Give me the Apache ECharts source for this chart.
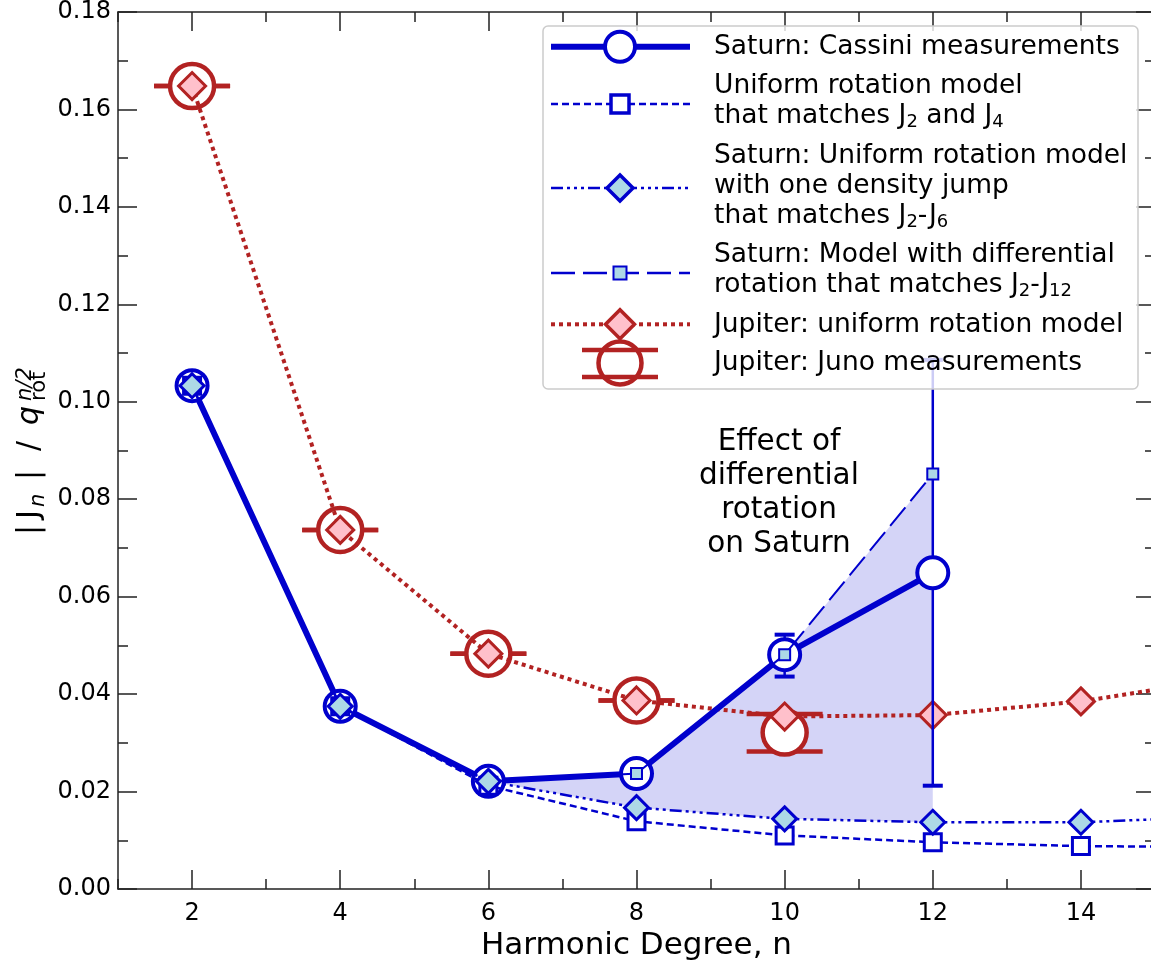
<!DOCTYPE html>
<html>
<head>
<meta charset="utf-8">
<script src="https://cdn.jsdelivr.net/npm/echarts@6/dist/echarts.min.js"></script>
<style>
html,body{margin:0;padding:0;background:#fff;}
#chart{width:1151px;height:964px;}
</style>
</head>
<body>
<div id="chart"></div>
<script>
// ---------------- data ----------------
const nSaturn = [2, 4, 6, 8, 10, 12];
const cassini = [0.1033, 0.0375, 0.0221, 0.0237, 0.0481, 0.0649];
const cassiniLow = [0.1033, 0.0375, 0.0221, 0.0237, 0.0436, 0.0212];
const cassiniHigh = [0.1033, 0.0375, 0.0221, 0.0237, 0.0522, 0.1086];
const diffRot = [0.1033, 0.0375, 0.0221, 0.0237, 0.0481, 0.0852];

const nModel = [2, 4, 6, 8, 10, 12, 14, 16];
const uniformJ2J4 = [0.1033, 0.0375, 0.0212, 0.0139, 0.0110, 0.0096, 0.0088, 0.0086];
const densityJump = [0.1033, 0.0375, 0.0221, 0.0167, 0.0144, 0.0137, 0.0137, 0.0149];
const jupiterModel = [0.1648, 0.0737, 0.0483, 0.0387, 0.0354, 0.0357, 0.0385, 0.0433];

const nJuno = [2, 4, 6, 8, 10];
const juno = [0.1648, 0.0737, 0.0483, 0.0387, 0.0321];
const junoLow = [0.1648, 0.0737, 0.0483, 0.0387, 0.0282];
const junoHigh = [0.1648, 0.0737, 0.0483, 0.0387, 0.0359];

const fillN = [6, 8, 10, 12];

const xTicks = [2, 4, 6, 8, 10, 12, 14];
const xMinorTicks = [1, 3, 5, 7, 9, 11, 13, 15];

const legendLabels = [
  'Saturn: Cassini measurements',
  'Uniform rotation model\nthat matches J{s|2} and J{s|4}',
  'Saturn: Uniform rotation model\nwith one density jump\nthat matches J{s|2}-J{s|6}',
  'Saturn: Model with differential\nrotation that matches J{s|2}-J{s|12}',
  'Jupiter: uniform rotation model',
  'Jupiter: Juno measurements'
];
const annotationText = 'Effect of\ndifferential\nrotation\non Saturn';

// ---------------- styles ----------------
const FONT = 'DejaVu Sans';
const BLUE = '#0000cd';
const RED = '#b22222';
const LIGHTBLUE = '#add8e6';
const PINK = '#ffc0cb';
const AXIS = '#222';

const pair = (xs, ys) => xs.map((x, i) => [x, ys[i]]);
const fillLower = fillN.map(n => densityJump[nModel.indexOf(n)]);
const fillUpper = fillN.map(n => diffRot[nSaturn.indexOf(n)]);

function errorSeries(ns, lo, hi, halfCap, color, vWidth, capWidth, z, always) {
  return {
    type: 'custom', xAxisIndex: 0, yAxisIndex: 0, z: z, silent: true,
    encode: { x: 0, y: [1, 2] },
    data: ns.map((n, i) => [n, lo[i], hi[i]]),
    renderItem: function (params, api) {
      const x = api.value(0), l = api.value(1), h = api.value(2);
      if (!always && Math.abs(h - l) < 1e-4) return null;
      const pl = api.coord([x, l]);
      const ph = api.coord([x, h]);
      const children = [
        { type: 'line', shape: { x1: pl[0], y1: pl[1], x2: ph[0], y2: ph[1] }, style: { stroke: color, lineWidth: vWidth } },
        { type: 'line', shape: { x1: pl[0] - halfCap, y1: pl[1], x2: pl[0] + halfCap, y2: pl[1] }, style: { stroke: color, lineWidth: capWidth } },
        { type: 'line', shape: { x1: ph[0] - halfCap, y1: ph[1], x2: ph[0] + halfCap, y2: ph[1] }, style: { stroke: color, lineWidth: capWidth } }
      ];
      return { type: 'group', children: children };
    }
  };
}

function lineSeries(name, xs, ys, opts) {
  return Object.assign({
    name: name, type: 'line', xAxisIndex: 0, yAxisIndex: 0,
    data: pair(xs, ys), showAllSymbol: true, silent: true,
    emphasis: { disabled: true }
  }, opts);
}

const series = [
  // shaded region (effect of differential rotation)
  {
    type: 'custom', xAxisIndex: 0, yAxisIndex: 0, z: 1, silent: true,
    encode: { x: 0, y: [1, 2] },
    data: fillN.map((n, i) => [n, fillLower[i], fillUpper[i]]),
    renderItem: function (params, api) {
      if (params.dataIndex !== 0) return null;
      const pts = [];
      for (let i = 0; i < fillN.length; i++) pts.push(api.coord([fillN[i], fillUpper[i]]));
      for (let i = fillN.length - 1; i >= 0; i--) pts.push(api.coord([fillN[i], fillLower[i]]));
      return { type: 'polygon', shape: { points: pts }, style: { fill: 'rgba(0,0,205,0.17)' } };
    }
  },
  // Juno error caps + markers
  errorSeries(nJuno, junoLow, junoHigh, 38, RED, 3, 4.5, 2, true),
  lineSeries('Jupiter: Juno measurements', nJuno, juno, {
    z: 2, symbol: 'circle', symbolSize: 44,
    lineStyle: { width: 0, opacity: 0 },
    itemStyle: { color: '#fff', borderColor: RED, borderWidth: 4.5 }
  }),
  // Jupiter uniform model
  lineSeries('Jupiter: uniform rotation model', nModel, jupiterModel, {
    z: 3, symbol: 'diamond', symbolSize: 27,
    lineStyle: { color: RED, width: 4, type: [4, 4] },
    itemStyle: { color: PINK, borderColor: RED, borderWidth: 3 }
  }),
  // Cassini
  errorSeries(nSaturn, cassiniLow, cassiniHigh, 10, BLUE, 2.5, 4, 4, false),
  lineSeries('Saturn: Cassini measurements', nSaturn, cassini, {
    z: 4, symbol: 'circle', symbolSize: 31,
    lineStyle: { color: BLUE, width: 6 },
    itemStyle: { color: '#fff', borderColor: BLUE, borderWidth: 4 }
  }),
  // Uniform rotation model matching J2, J4
  lineSeries('Uniform rotation model', nModel, uniformJ2J4, {
    z: 5, symbol: 'rect', symbolSize: 17,
    lineStyle: { color: BLUE, width: 2.5, type: [7, 4] },
    itemStyle: { color: '#fff', borderColor: BLUE, borderWidth: 3 }
  }),
  // Differential rotation model
  lineSeries('Saturn: Model with differential rotation', nSaturn, diffRot, {
    z: 5, symbol: 'rect', symbolSize: 11,
    lineStyle: { color: BLUE, width: 2, type: [24, 8] },
    itemStyle: { color: LIGHTBLUE, borderColor: BLUE, borderWidth: 2 }
  }),
  // density jump model
  lineSeries('Saturn: Uniform rotation model with one density jump', nModel, densityJump, {
    z: 5, symbol: 'diamond', symbolSize: 24,
    lineStyle: { color: BLUE, width: 2.5, type: [12, 4, 3, 4, 3, 4, 3, 4] },
    itemStyle: { color: LIGHTBLUE, borderColor: BLUE, borderWidth: 3 }
  })
];

// ---------------- axes ----------------
const tickStyle = { color: AXIS, width: 1.5 };
function xAx(pos, ticks, len, showLine, labels, extra) {
  return Object.assign({
    type: 'value', min: 1, max: 15, position: pos, gridIndex: 0,
    axisLine: { show: showLine, onZero: false, lineStyle: { color: AXIS, width: 1.5 } },
    axisTick: { show: true, inside: true, length: len, customValues: ticks, lineStyle: tickStyle },
    axisLabel: labels ? { show: true, customValues: ticks, fontSize: 24, color: '#000', fontFamily: FONT, margin: 13 } : { show: false },
    splitLine: { show: false }
  }, extra || {});
}
function yAx(pos, labels) {
  return {
    type: 'value', min: 0, max: 0.18, interval: 0.02, position: pos, gridIndex: 0,
    axisLine: { show: true, onZero: false, lineStyle: { color: AXIS, width: 1.5 } },
    axisTick: { show: true, inside: true, length: 19, lineStyle: tickStyle },
    minorTick: { show: true, splitNumber: 2, length: 10, lineStyle: tickStyle },
    axisLabel: labels ? { show: true, fontSize: 24, color: '#000', fontFamily: FONT, margin: 7, formatter: v => v.toFixed(2) } : { show: false },
    splitLine: { show: false }, minorSplitLine: { show: false }
  };
}

// ---------------- graphic: legend, annotation, y label ----------------
const LX0 = 551, LX1 = 690, LSX = 620, TX = 714;
const legendSymbolY = [46.7, 104, 188, 273, 324.3, 363];
const legendTextY = [47, 101.2, 186.2, 270.5, 325, 363];
const g = [];
g.push({ type: 'rect', z: 100, shape: { x: 543, y: 26, width: 595, height: 363, r: 5 },
  style: { fill: 'rgba(255,255,255,0.8)', stroke: '#cccccc', lineWidth: 1.5 } });
function lLine(y, color, w, dash) {
  g.push({ type: 'line', z: 101, shape: { x1: LX0, y1: y, x2: LX1, y2: y },
    style: { stroke: color, lineWidth: w, lineDash: dash || null } });
}
function diamond(cx, cy, s) {
  return [[cx, cy - s / 2], [cx + s / 2, cy], [cx, cy + s / 2], [cx - s / 2, cy]];
}
// 1 Cassini
lLine(legendSymbolY[0], BLUE, 6);
g.push({ type: 'circle', z: 102, shape: { cx: LSX, cy: legendSymbolY[0], r: 15 }, style: { fill: '#fff', stroke: BLUE, lineWidth: 4 } });
// 2 uniform
lLine(legendSymbolY[1], BLUE, 2.5, [7, 4]);
g.push({ type: 'rect', z: 102, shape: { x: LSX - 9, y: legendSymbolY[1] - 9, width: 18, height: 18 }, style: { fill: '#fff', stroke: BLUE, lineWidth: 3.5 } });
// 3 density jump
lLine(legendSymbolY[2], BLUE, 2.5, [12, 4, 3, 4, 3, 4, 3, 4]);
g.push({ type: 'polygon', z: 102, shape: { points: diamond(LSX, legendSymbolY[2], 26) }, style: { fill: LIGHTBLUE, stroke: BLUE, lineWidth: 3.5 } });
// 4 diff rotation
lLine(legendSymbolY[3], BLUE, 2.5, [24, 8]);
g.push({ type: 'rect', z: 102, shape: { x: LSX - 6.5, y: legendSymbolY[3] - 6.5, width: 13, height: 13 }, style: { fill: LIGHTBLUE, stroke: BLUE, lineWidth: 2 } });
// 5 jupiter model
lLine(legendSymbolY[4], RED, 4, [4, 4]);
g.push({ type: 'polygon', z: 102, shape: { points: diamond(LSX, legendSymbolY[4], 29) }, style: { fill: PINK, stroke: RED, lineWidth: 3.5 } });
// 6 Juno
g.push({ type: 'circle', z: 102, shape: { cx: LSX, cy: legendSymbolY[5], r: 21.5 }, style: { fill: '#fff', stroke: RED, lineWidth: 4.5 } });
g.push({ type: 'line', z: 102, shape: { x1: 582, y1: legendSymbolY[5] - 13, x2: 658, y2: legendSymbolY[5] - 13 }, style: { stroke: RED, lineWidth: 4.5 } });
g.push({ type: 'line', z: 102, shape: { x1: 582, y1: legendSymbolY[5] + 14, x2: 658, y2: legendSymbolY[5] + 14 }, style: { stroke: RED, lineWidth: 4.5 } });
legendLabels.forEach((t, i) => {
  g.push({ type: 'text', z: 103, x: TX, y: legendTextY[i],
    style: { text: t, fontSize: 26.5, fontFamily: FONT, fill: '#000', align: 'left', verticalAlign: 'middle', lineHeight: 30,
      rich: { s: { fontSize: 18, fontFamily: FONT, fill: '#000', lineHeight: 14, verticalAlign: 'bottom' } } } });
});
// annotation
g.push({ type: 'text', z: 50, x: 779, y: 493,
  style: { text: annotationText, font: '29.5px "' + FONT + '"', fill: '#000', align: 'center', verticalAlign: 'middle', lineHeight: 34 } });
// y-axis label (rotated group)
const mainF = '30px "' + FONT + '"';
const smallF = '21px "' + FONT + '"';
const smallIt = 'italic 21px "' + FONT + '"';
const mainIt = 'italic 30px "' + FONT + '"';
function yl(text, x, y, font) {
  return { type: 'text', x: x, y: y, style: { text: text, font: font, fill: '#000', align: 'left', verticalAlign: 'middle' } };
}
g.push({ type: 'group', x: 30, y: 535, rotation: Math.PI / 2, children: [
  yl('|', 0, 0, mainF),
  yl('J', 16, 0, mainF),
  yl('n', 28, 9, smallIt),
  yl('|', 55, 0, mainF),
  yl('/', 84, 0, mainF),
  yl('q', 110, 0, mainIt),
  yl('n/2', 134, -4, smallIt),
  yl('rot', 134, 10, smallF)
] });

const option = {
  animation: false,
  backgroundColor: '#fff',
  grid: { left: 118, top: 12, right: -4, bottom: 75, containLabel: false, outerBoundsMode: 'none' },
  xAxis: [
    xAx('bottom', xTicks, 19, true, true, {
      name: 'Harmonic Degree, n', nameLocation: 'middle', nameGap: 41,
      nameTextStyle: { fontSize: 31, color: '#000', fontFamily: FONT }
    }),
    xAx('bottom', xMinorTicks, 10, false, false),
    xAx('top', xTicks, 19, true, false),
    xAx('top', xMinorTicks, 10, false, false)
  ],
  yAxis: [yAx('left', true), yAx('right', false)],
  series: series,
  graphic: g
};

const chart = echarts.init(document.getElementById('chart'), null, { renderer: 'canvas' });
chart.setOption(option);
</script>
</body>
</html>
